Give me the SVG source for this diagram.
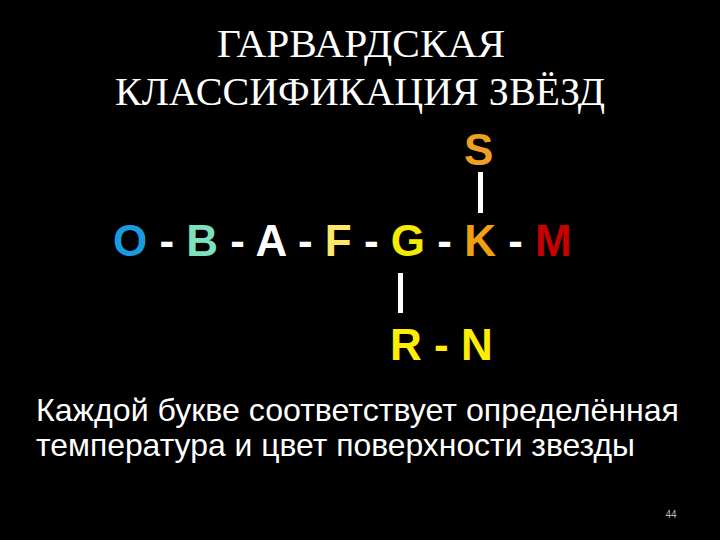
<svg xmlns="http://www.w3.org/2000/svg" width="720" height="540" viewBox="0 0 720 540">
<style>
.title{font-family:"Liberation Serif","Times New Roman",serif;font-size:39px;fill:#ffffff}
.big{font-family:"Liberation Sans",Arial,sans-serif;font-size:44px;font-weight:bold;fill:#ffffff}
.body{font-family:"Liberation Sans",Arial,sans-serif;font-size:32px;fill:#ffffff}
.num{font-family:"Liberation Sans",Arial,sans-serif;font-size:10px;fill:#bbbbbb}
.conn{stroke:#ffffff;stroke-width:5}
</style>
<rect width="720" height="540" fill="#000000"/>
<g id="title">
<text class="title" x="217" y="57" textLength="288" lengthAdjust="spacingAndGlyphs">ГАРВАРДСКАЯ</text>
<text class="title" x="115" y="105" textLength="490" lengthAdjust="spacingAndGlyphs">КЛАССИФИКАЦИЯ ЗВЁЗД</text>
</g>
<g id="node-S"><text class="big" x="464" y="165" style="fill:#f0a020">S</text></g>
<g id="node-row">
<text class="big" x="113" y="256"><tspan style="fill:#1a9be0">O</tspan> - <tspan style="fill:#7fe0c0">B</tspan> - <tspan style="fill:#ffffff">A</tspan> - <tspan style="fill:#ffe866">F</tspan> - <tspan style="fill:#f5eb00">G</tspan> - <tspan style="fill:#f0a010">K</tspan> - <tspan style="fill:#c80000">M</tspan></text>
</g>
<g id="node-RN">
<text class="big" x="390" y="360" style="fill:#ffee00">R - N</text>
</g>
<g id="connectors">
<line class="conn" x1="480.5" y1="172" x2="480.5" y2="213"/>
<line class="conn" x1="400.5" y1="273" x2="400.5" y2="313"/>
</g>
<g id="caption">
<text class="body" x="36" y="421" textLength="643" lengthAdjust="spacingAndGlyphs">Каждой букве соответствует определённая</text>
<text class="body" x="36" y="456" textLength="599" lengthAdjust="spacingAndGlyphs">температура и цвет поверхности звезды</text>
</g>
<text class="num" x="671" y="518" text-anchor="middle">44</text>
</svg>
